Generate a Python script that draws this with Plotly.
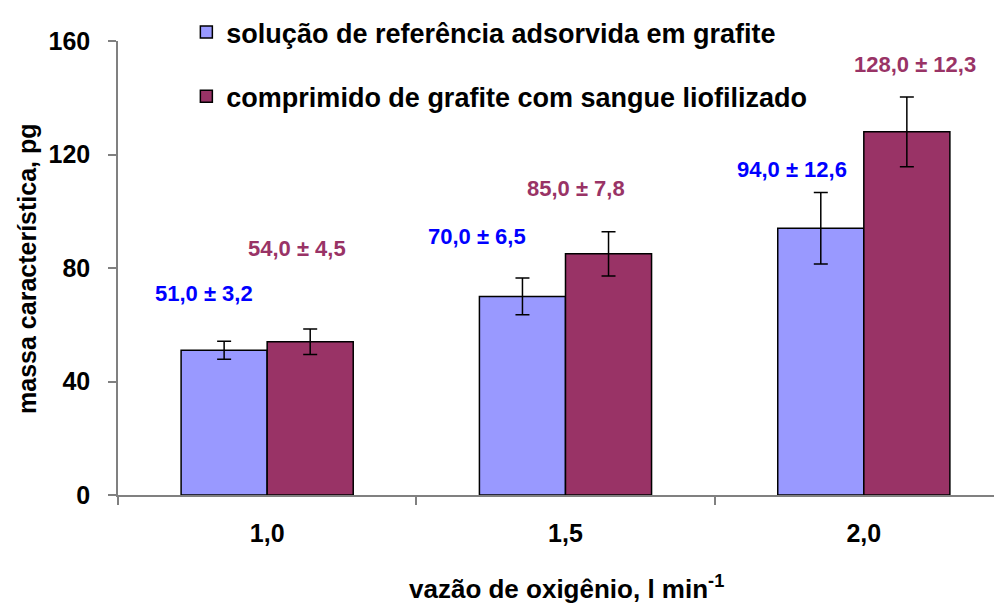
import plotly.graph_objects as go

categories = ["1,0", "1,5", "2,0"]
ref_values = [51.0, 70.0, 94.0]
ref_errors = [3.2, 6.5, 12.6]
blood_values = [54.0, 85.0, 128.0]
blood_errors = [4.5, 7.8, 12.3]
ref_name = "solução de referência adsorvida em grafite"
blood_name = "comprimido de grafite com sangue liofilizado"
x_title = "vazão de oxigênio, l min<sup>-1</sup>"
y_title = "massa característica, pg"
y_ticks = [0, 40, 80, 120, 160]

BLUE_BAR = "#9999FF"
MAROON = "#993366"
BLUE_TXT = "#0000FF"
AXIS_GRAY = "#808080"
FONT = "Liberation Sans, Arial, sans-serif"

fig = go.Figure()
fig.add_trace(go.Bar(
    x=categories, y=ref_values, name=f"<b>{ref_name}</b>", legendgroup="a",
    marker=dict(color=BLUE_BAR, line=dict(color="black", width=1.5)),
    error_y=dict(type="data", array=ref_errors, color="black", thickness=1.5, width=7),
))
fig.add_trace(go.Bar(
    x=categories, y=blood_values, name=f"<b>{blood_name}</b>", legendgroup="b",
    marker=dict(color=MAROON, line=dict(color="black", width=1.5)),
    error_y=dict(type="data", array=blood_errors, color="black", thickness=1.5, width=7),
))


def fmt(v):
    return f"{v:.1f}".replace(".", ",")


# label placement (layout): y in data units, x shift in px from category center
ref_label_y = [71.0, 91.1, 114.7]
ref_label_dx = [-63, -88, -72]
blood_label_y = [86.9, 108.0, 151.8]
blood_label_dx = [30, 11, 51]

annotations = []
for i, c in enumerate(categories):
    annotations.append(dict(
        x=c, y=ref_label_y[i], xref="x", yref="y", xshift=ref_label_dx[i],
        text=f"<b>{fmt(ref_values[i])} ± {fmt(ref_errors[i])}</b>", showarrow=False,
        font=dict(family=FONT, size=22, color=BLUE_TXT), xanchor="center", yanchor="middle"))
    annotations.append(dict(
        x=c, y=blood_label_y[i], xref="x", yref="y", xshift=blood_label_dx[i],
        text=f"<b>{fmt(blood_values[i])} ± {fmt(blood_errors[i])}</b>", showarrow=False,
        font=dict(family=FONT, size=22, color=MAROON), xanchor="center", yanchor="middle"))

# axis titles as annotations (fixed placement)
annotations.append(dict(
    x=0.503, y=-0.203, xref="paper", yref="paper", text=f"<b>{x_title}</b>",
    showarrow=False, xanchor="center", yanchor="middle",
    font=dict(family=FONT, size=26, color="black")))
annotations.append(dict(
    x=-0.102, y=0.498, xref="paper", yref="paper", text=f"<b>{y_title}</b>",
    showarrow=False, xanchor="center", yanchor="middle", textangle=-90,
    font=dict(family=FONT, size=25, color="black")))

fig.update_layout(
    width=1002, height=603,
    margin=dict(l=110, r=0, t=33, b=116, autoexpand=False),
    paper_bgcolor="white", plot_bgcolor="white",
    barmode="group", bargap=0.423, bargroupgap=0,
    font=dict(family=FONT, size=20, color="black"),
    showlegend=True,
    legend=dict(
        xref="container", yref="container",
        x=0.178, y=1.03, xanchor="left", yanchor="top",
        traceorder="grouped", tracegroupgap=26,
        font=dict(family=FONT, size=27, color="black"),
        bgcolor="rgba(0,0,0,0)", itemwidth=30,
    ),
    annotations=annotations,
)
fig.update_xaxes(
    type="category", range=[-0.5, 2.49],
    showline=True, linecolor=AXIS_GRAY, linewidth=1.5,
    ticks="outside", tickson="boundaries", ticklen=8, tickcolor=AXIS_GRAY, tickwidth=1.5,
    tickfont=dict(family=FONT, size=25, color="black", weight="bold"),
    ticklabelstandoff=15,
    showgrid=False, zeroline=False, automargin=False,
)
fig.update_yaxes(
    range=[0, 160], tickvals=y_ticks, ticktext=[str(t) for t in y_ticks],
    showline=True, linecolor=AXIS_GRAY, linewidth=1.5,
    ticks="outside", ticklen=8, tickcolor=AXIS_GRAY, tickwidth=1.5,
    tickfont=dict(family=FONT, size=25, color="black", weight="bold"),
    ticklabelstandoff=13,
    showgrid=False, zeroline=False, automargin=False,
)

fig.write_html("out.html")
